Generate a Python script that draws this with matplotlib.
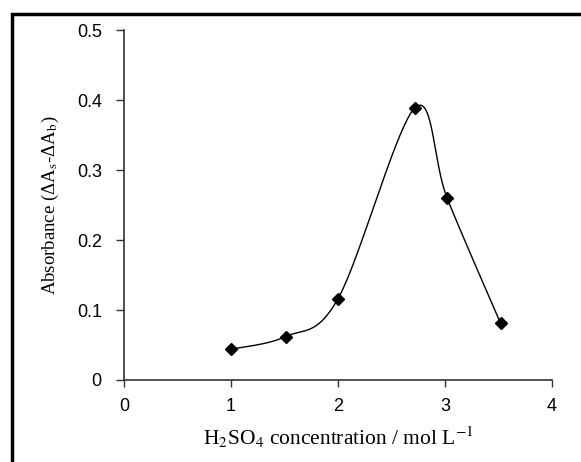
import numpy as np
import matplotlib
matplotlib.use('Agg')
import matplotlib.pyplot as plt
from matplotlib.patches import Rectangle

plt.rcParams['mathtext.fontset'] = 'stix'

# data
conc = [1.0, 1.51, 2.0, 2.72, 3.02, 3.52]
absorb = [0.044, 0.062, 0.116, 0.389, 0.260, 0.081]
xticks = [0, 1, 2, 3, 4]
yticks = [0, 0.1, 0.2, 0.3, 0.4, 0.5]


def smooth_line(xs, ys, n=40):
    # Catmull-Rom style smoothing, similar to a spreadsheet "smoothed line"
    xs = np.asarray(xs, float)
    ys = np.asarray(ys, float)
    px = np.concatenate([[xs[0]], xs, [xs[-1]]])
    py = np.concatenate([[ys[0]], ys, [ys[-1]]])
    outx, outy = [], []
    t = np.linspace(0, 1, n)
    for i in range(1, len(px) - 2):
        p0, p1, p2, p3 = [np.array([px[j], py[j]]) for j in (i - 1, i, i + 1, i + 2)]
        c1 = p1 + (p2 - p0) / 6.0
        c2 = p2 - (p3 - p1) / 6.0
        b = ((1 - t) ** 3)[:, None] * p1 + (3 * (1 - t) ** 2 * t)[:, None] * c1 \
            + (3 * (1 - t) * t ** 2)[:, None] * c2 + (t ** 3)[:, None] * p2
        outx.extend(b[:, 0])
        outy.extend(b[:, 1])
    return outx, outy


fig = plt.figure(figsize=(5.81, 4.62), dpi=100)
ax = fig.add_axes([0.2134, 0.1775, 0.7366, 0.7575])

sx, sy = smooth_line(conc, absorb)
ax.plot(sx, sy, color='black', lw=1.0)
ax.plot(conc, absorb, linestyle='none', marker='D', ms=6.5, color='black')

ax.set_xlim(0, 4)
ax.set_ylim(0, 0.5)
ax.set_xticks(xticks)
ax.set_yticks(yticks)
ax.set_xticklabels([str(v) for v in xticks], fontfamily='Liberation Sans', fontsize=13)
ax.set_yticklabels(['0', '0.1', '0.2', '0.3', '0.4', '0.5'], fontfamily='Liberation Sans', fontsize=13)
ax.tick_params(axis='x', direction='out', length=5, width=1, color='#333333', pad=8)
ax.tick_params(axis='y', direction='out', length=6, width=1, color='#333333', pad=10)
ax.spines['top'].set_visible(False)
ax.spines['right'].set_visible(False)
for s in ('left', 'bottom'):
    ax.spines[s].set_color('#333333')
    ax.spines[s].set_linewidth(1.2)

ax.set_xlabel(r'H$_\mathrm{2}$SO$_\mathrm{4}$ concentration / mol L$^\mathrm{-1}$',
              fontfamily='Liberation Serif', fontsize=15.5, labelpad=7)
ax.set_ylabel(r'Absorbance (ΔA$_\mathrm{s}$-ΔA$_\mathrm{b}$)', fontfamily='Liberation Serif',
              fontsize=13.5, labelpad=11)

# outer frame
fig.patches.append(Rectangle((12 / 581, -0.1), 1.2, (448 / 462) + 0.1, transform=fig.transFigure,
                             fill=False, edgecolor='black', lw=2.5))

plt.savefig('out.png', dpi=100)
